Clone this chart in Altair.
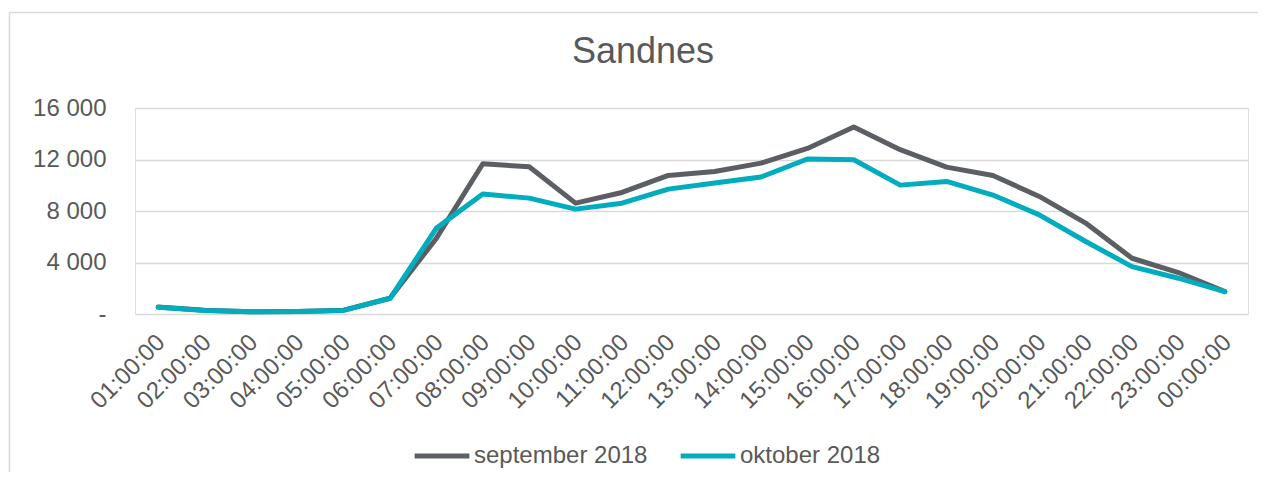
import altair as alt
import pandas as pd

TITLE = "Sandnes"
HOURS = ["01:00:00", "02:00:00", "03:00:00", "04:00:00", "05:00:00", "06:00:00",
         "07:00:00", "08:00:00", "09:00:00", "10:00:00", "11:00:00", "12:00:00",
         "13:00:00", "14:00:00", "15:00:00", "16:00:00", "17:00:00", "18:00:00",
         "19:00:00", "20:00:00", "21:00:00", "22:00:00", "23:00:00", "00:00:00"]
SERIES = ["september 2018", "oktober 2018"]
SEP = [550, 300, 170, 200, 300, 1220, 5890, 11670, 11430, 8610, 9440, 10760,
       11070, 11720, 12860, 14530, 12760, 11410, 10760, 9130, 7060, 4330, 3220, 1740]
OKT = [520, 280, 170, 200, 280, 1220, 6670, 9315, 9000, 8145, 8610, 9700,
       10170, 10640, 12040, 11980, 10010, 10300, 9240, 7700, 5630, 3680, 2780, 1740]
Y_TICKS = [0, 4000, 8000, 12000, 16000]
COLORS = ["#5B5F63", "#00ACBE"]

FONT = "Liberation Sans"
TXT = "#595959"

rows = []
for s, vals in zip(SERIES, [SEP, OKT]):
    for h, v in zip(HOURS, vals):
        rows.append({"time": h, "serie": s, "value": v})
df = pd.DataFrame(rows)

W, H = 1113, 206
PAD = {"left": 127, "top": 100, "right": 10, "bottom": 158}

one = pd.DataFrame({"k": [0]})
border_top = alt.Chart(one).mark_rule(color="#d9d9d9", strokeWidth=1.5).encode(
    x=alt.value(-125.5), x2=alt.value(1200), y=alt.value(-95.5)
)
border_left = alt.Chart(one).mark_rule(color="#d9d9d9", strokeWidth=1.5).encode(
    x=alt.value(-125.5), y=alt.value(-95.5), y2=alt.value(420)
)

lines = alt.Chart(df).mark_line(
    strokeWidth=5, strokeCap="round", strokeJoin="round"
).encode(
    x=alt.X("time:N", sort=HOURS,
            scale=alt.Scale(type="point", padding=0.5),
            axis=alt.Axis(title=None, labelAngle=-45, labelFontSize=24,
                          labelColor=TXT, labelFont=FONT, ticks=False,
                          domain=False, grid=False, labelPadding=16,
                          labelOffset=-6)),
    y=alt.Y("value:Q", scale=alt.Scale(domain=[0, 16000], nice=False),
            axis=alt.Axis(title=None, values=Y_TICKS, labelFontSize=24,
                          labelColor=TXT, labelFont=FONT, ticks=False,
                          domain=False, grid=True, gridColor="#d9d9d9",
                          gridWidth=1.5, labelPadding=29,
                          labelExpr="datum.value == 0 ? '-\u00a0\u00a0' : replace(format(datum.value, ','), ',', ' ')")),
    color=alt.Color("serie:N", sort=SERIES,
                    scale=alt.Scale(domain=SERIES, range=COLORS),
                    legend=alt.Legend(title=None, orient="none", direction="horizontal",
                                      legendX=277, legendY=318,
                                      symbolType="stroke", symbolStrokeWidth=5,
                                      symbolSize=3000, labelFontSize=24,
                                      labelColor=TXT, labelFont=FONT,
                                      labelLimit=400,
                                      labelOffset=2, columnPadding=22)),
    order=alt.Order("serie_order:Q")
).transform_calculate(
    serie_order="datum.serie == 'september 2018' ? 0 : 1"
)

title = alt.Chart(pd.DataFrame({"t": [TITLE]})).mark_text(
    fontSize=36, font=FONT, color=TXT, align="center", baseline="alphabetic"
).encode(
    text="t:N", x=alt.value(508), y=alt.value(-45)
)

chart = alt.layer(border_top, border_left, lines, title).properties(
    width=W, height=H, padding=PAD,
    autosize=alt.AutoSizeParams(type="none")
).configure_view(stroke=None).configure(background="white")

chart.save("out.html", embed_options={"renderer": "svg", "actions": False})
